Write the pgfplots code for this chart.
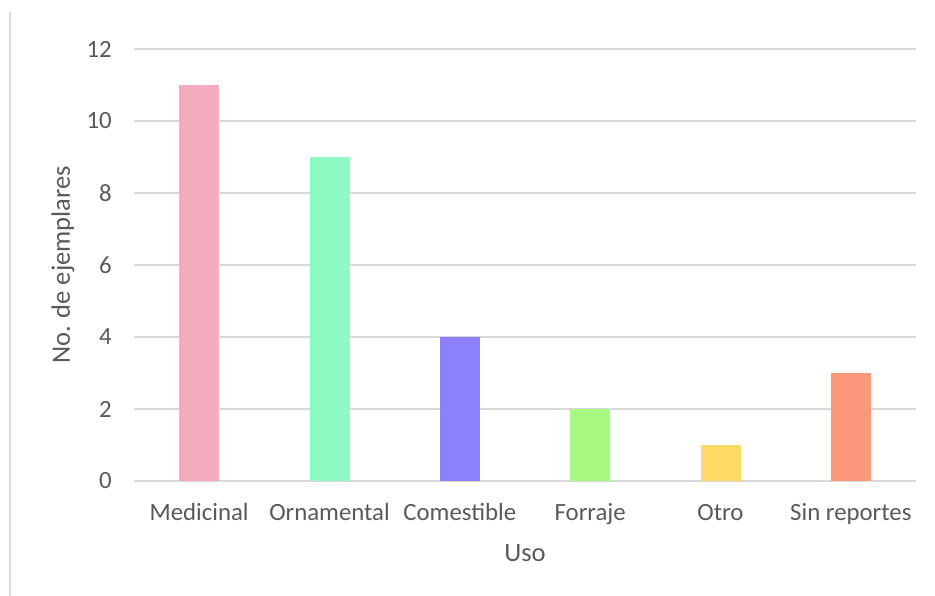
\documentclass[border=0pt]{standalone}
\usepackage{fontspec}
\setmainfont{Carlito}
\usepackage{pgfplots}
\pgfplotsset{compat=1.18}
\definecolor{txt}{HTML}{595959}
\definecolor{grd}{HTML}{D9D9D9}
\definecolor{c1}{HTML}{F2ACBE}
\definecolor{c2}{HTML}{8FF9C2}
\definecolor{c3}{HTML}{8D80FD}
\definecolor{c4}{HTML}{A6FA7E}
\definecolor{c5}{HTML}{FFD966}
\definecolor{c6}{HTML}{FC987A}
\begin{document}
\begin{tikzpicture}[x=1pt,y=1pt]
\useasboundingbox (0,0) rectangle (935,596);
\draw[grd, line width=2pt] (9.5,584) -- (9.5,0);
\begin{axis}[
  at={(134pt,115pt)}, anchor=south west,
  scale only axis, width=782pt, height=432pt,
  xmin=-0.5, xmax=5.5, ymin=0, ymax=12,
  ytick={0,2,...,12},
  xtick={0,1,2,3,4,5},
  xticklabels={Medicinal,Ornamental,Comestible,Forraje,Otro,Sin reportes},
  ymajorgrids, grid style={grd, line width=1.5pt},
  axis line style={draw=none},
  major tick length=0pt,
  /pgf/number format/assume math mode=true,
  every tick label/.append style={font=\fontsize{24.8}{29}\selectfont, text=txt, inner sep=0pt},
  xticklabel style={anchor=base, yshift=-40pt},
  yticklabel style={anchor=east, xshift=-22pt},
  xlabel={Uso}, ylabel={No. de ejemplares},
  label style={font=\fontsize{26.5}{31}\selectfont, text=txt, inner sep=0pt},
  xlabel style={at={(axis description cs:0.5,-0.1667)}, anchor=center},
  ylabel style={at={(axis description cs:-0.0908,0.5)}, anchor=center},
  ybar, bar width=40pt, bar shift=0pt,
  clip=false,
]
\addplot[fill=c1, draw=none] coordinates {(0,11)};
\addplot[fill=c2, draw=none] coordinates {(1,9)};
\addplot[fill=c3, draw=none] coordinates {(2,4)};
\addplot[fill=c4, draw=none] coordinates {(3,2)};
\addplot[fill=c5, draw=none] coordinates {(4,1)};
\addplot[fill=c6, draw=none] coordinates {(5,3)};
\end{axis}
\end{tikzpicture}
\end{document}
